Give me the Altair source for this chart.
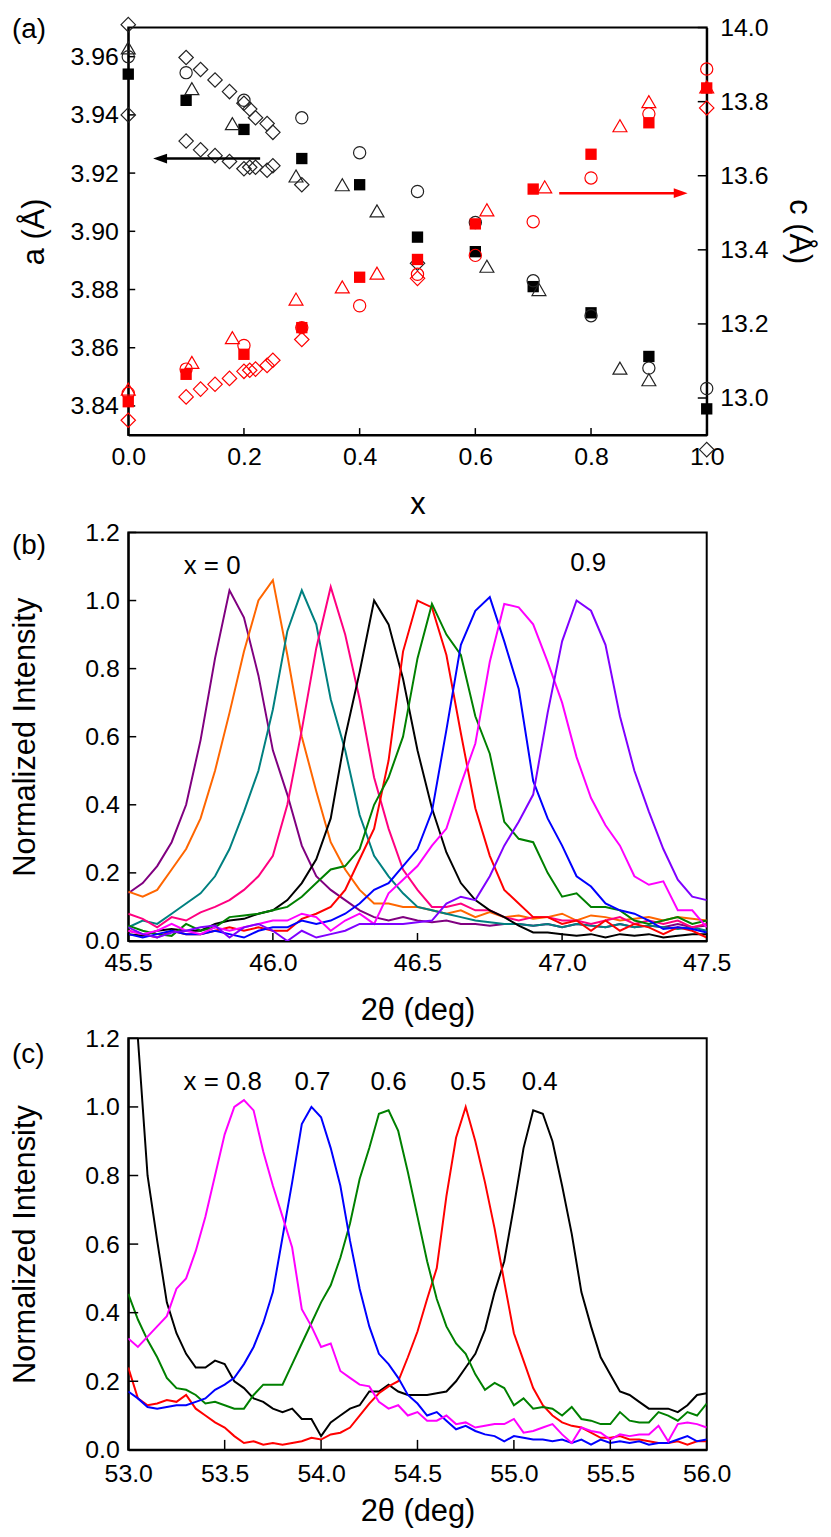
import altair as alt
import pandas as pd

FONT = "Liberation Sans"
W = 582
HA, HB, HC = 410, 411, 414

# ---------------- panel (a) data ----------------
XA_TICKS = [0.0, 0.2, 0.4, 0.6, 0.8, 1.0]
A_TICKS = [3.84, 3.86, 3.88, 3.90, 3.92, 3.94, 3.96]
C_TICKS = [13.0, 13.2, 13.4, 13.6, 13.8, 14.0]

SQ_X = [0.0, 0.1, 0.2, 0.3, 0.4, 0.5, 0.6, 0.7, 0.8, 0.9, 1.0]
SQ_A = [3.954, 3.945, 3.935, 3.925, 3.916, 3.898, 3.893, 3.881, 3.872, 3.857, 3.839]
SQ_C = [12.99, 13.064, 13.118, 13.19, 13.326, 13.374, 13.47, 13.564, 13.658, 13.743, 13.837]

CI_X = [0.0, 0.1, 0.2, 0.3, 0.4, 0.5, 0.6, 0.7, 0.8, 0.9, 1.0]
CI_A = [3.960, 3.9545, 3.945, 3.939, 3.927, 3.9137, 3.903, 3.883, 3.871, 3.853, 3.846]
CI_C = [13.013, 13.078, 13.142, 13.19, 13.249, 13.334, 13.385, 13.476, 13.594, 13.767, 13.888]

TRA_X = [0.0, 0.11, 0.18, 0.29, 0.37, 0.43, 0.62, 0.71, 0.85, 0.9]
TRA_A = [3.963, 3.949, 3.937, 3.919, 3.916, 3.907, 3.888, 3.880, 3.853, 3.849]
TRC_X = [0.0, 0.11, 0.18, 0.29, 0.37, 0.43, 0.62, 0.72, 0.85, 0.9, 1.0]
TRC_C = [13.024, 13.096, 13.163, 13.267, 13.3, 13.337, 13.508, 13.57, 13.735, 13.8, 13.84]

DIA_X = [0.0, 0.0, 0.1, 0.125, 0.15, 0.175, 0.2, 0.21, 0.22, 0.24, 0.25,
         0.1, 0.125, 0.15, 0.175, 0.2, 0.21, 0.22, 0.24, 0.25, 0.3, 0.5, 1.0]
DIA_A = [3.971, 3.940, 3.9597, 3.9556, 3.952, 3.948, 3.944, 3.942, 3.939, 3.937, 3.934,
         3.931, 3.928, 3.926, 3.924, 3.9215, 3.922, 3.922, 3.921, 3.9225, 3.916, 3.889, 3.825]
DIC_X = [0.0, 0.1, 0.125, 0.15, 0.175, 0.2, 0.21, 0.22, 0.24, 0.25, 0.3, 0.5, 1.0]
DIC_C = [12.94, 13.003, 13.024, 13.037, 13.053, 13.072, 13.075, 13.078, 13.088, 13.102, 13.158, 13.323, 13.783]

ARROW_A_X = [0.055, 0.228]
ARROW_A_Y = 3.925
ARROW_C_X = [0.745, 0.955]
ARROW_C_Y = 13.553

# ---------------- panel (b) data ----------------
T_B = [45.5, 45.55, 45.6, 45.65, 45.7, 45.75, 45.8, 45.85, 45.9, 45.95,
       46.0, 46.05, 46.1, 46.15, 46.2, 46.25, 46.3, 46.35, 46.4, 46.45,
       46.5, 46.55, 46.6, 46.65, 46.7, 46.75, 46.8, 46.85, 46.9, 46.95,
       47.0, 47.05, 47.1, 47.15, 47.2, 47.25, 47.3, 47.35, 47.4, 47.45, 47.5]
SER_B = ["0", "0.1", "0.2", "0.3", "0.4", "0.5", "0.6", "0.7", "0.8", "0.9"]
COL_B = ["#800080", "#FF6600", "#008080", "#FF0080", "#000000",
         "#FF0000", "#008000", "#0000FF", "#FF00FF", "#8000FF"]
I_B = {
    "0": [0.14, 0.17, 0.22, 0.29, 0.40, 0.59, 0.83, 1.03, 0.95, 0.78,
          0.56, 0.43, 0.28, 0.19, 0.15, 0.12, 0.09, 0.07, 0.06, 0.07,
          0.06, 0.055, 0.06, 0.05, 0.05, 0.045, 0.05, 0.05, 0.045, 0.05,
          0.04, 0.05, 0.045, 0.04, 0.05, 0.04, 0.045, 0.04, 0.05, 0.04, 0.045],
    "0.1": [0.145, 0.13, 0.15, 0.21, 0.27, 0.36, 0.50, 0.67, 0.85, 1.0,
            1.06, 0.84, 0.60, 0.44, 0.29, 0.21, 0.15, 0.11, 0.11, 0.10,
            0.10, 0.09, 0.08, 0.09, 0.07, 0.085, 0.07, 0.075, 0.065, 0.07,
            0.08, 0.06, 0.075, 0.07, 0.06, 0.065, 0.07, 0.06, 0.07, 0.065, 0.06],
    "0.2": [0.04, 0.06, 0.05, 0.08, 0.11, 0.14, 0.19, 0.27, 0.38, 0.50,
            0.68, 0.91, 1.03, 0.93, 0.71, 0.56, 0.37, 0.25, 0.19, 0.14,
            0.10, 0.09, 0.08, 0.07, 0.06, 0.055, 0.05, 0.05, 0.045, 0.05,
            0.04, 0.05, 0.045, 0.04, 0.05, 0.04, 0.045, 0.04, 0.035, 0.04, 0.03],
    "0.3": [0.08, 0.065, 0.04, 0.07, 0.06, 0.084, 0.10, 0.12, 0.15, 0.19,
            0.25, 0.40, 0.62, 0.86, 1.04, 0.90, 0.71, 0.48, 0.33, 0.21,
            0.15, 0.10, 0.10, 0.11, 0.09, 0.09, 0.07, 0.06, 0.07, 0.07,
            0.06, 0.06, 0.05, 0.06, 0.07, 0.05, 0.06, 0.05, 0.06, 0.04, 0.05],
    "0.4": [0.02, 0.015, 0.03, 0.035, 0.03, 0.03, 0.05, 0.06, 0.065, 0.08,
            0.09, 0.12, 0.17, 0.24, 0.36, 0.60, 0.79, 1.0, 0.93, 0.77,
            0.56, 0.39, 0.26, 0.17, 0.12, 0.09, 0.07, 0.045, 0.025, 0.025,
            0.02, 0.015, 0.02, 0.01, 0.02, 0.015, 0.02, 0.01, 0.015, 0.02, 0.02],
    "0.5": [0.03, 0.02, 0.01, 0.03, 0.02, 0.02, 0.03, 0.04, 0.03, 0.04,
            0.03, 0.03, 0.065, 0.08, 0.10, 0.15, 0.24, 0.33, 0.53, 0.85,
            1.0, 0.98, 0.84, 0.61, 0.39, 0.25, 0.15, 0.11, 0.07, 0.07,
            0.05, 0.06, 0.03, 0.06, 0.03, 0.05, 0.04, 0.02, 0.04, 0.03, 0.01],
    "0.6": [0.045, 0.03, 0.02, 0.015, 0.05, 0.03, 0.04, 0.07, 0.075, 0.08,
            0.09, 0.10, 0.13, 0.17, 0.21, 0.22, 0.27, 0.40, 0.48, 0.60,
            0.83, 0.99, 0.90, 0.84, 0.66, 0.55, 0.35, 0.30, 0.29, 0.20,
            0.13, 0.14, 0.10, 0.10, 0.09, 0.06, 0.05, 0.06, 0.07, 0.05, 0.06],
    "0.7": [0.02, 0.01, 0.02, 0.03, 0.02, 0.02, 0.03, 0.02, 0.01, 0.03,
            0.04, 0.04, 0.06, 0.05, 0.06, 0.08, 0.11, 0.15, 0.17, 0.22,
            0.27, 0.38, 0.62, 0.87, 0.97, 1.01, 0.88, 0.74, 0.47, 0.36,
            0.28, 0.19, 0.16, 0.11, 0.09, 0.08, 0.06, 0.035, 0.04, 0.035, 0.025],
    "0.8": [0.03, 0.02, 0.03, 0.05, 0.03, 0.02, 0.04, 0.03, 0.04, 0.05,
            0.06, 0.06, 0.08, 0.07, 0.03, 0.06, 0.08, 0.05, 0.14, 0.18,
            0.22, 0.28, 0.33, 0.46, 0.58, 0.82, 0.99, 0.98, 0.93, 0.82,
            0.70, 0.54, 0.42, 0.34, 0.28, 0.19, 0.165, 0.175, 0.09, 0.09, 0.04],
    "0.9": [0.04, 0.02, 0.01, 0.025, 0.03, 0.04, 0.045, 0.01, 0.04, 0.05,
            0.03, 0.0, 0.03, 0.01, 0.02, 0.03, 0.05, 0.05, 0.05, 0.05,
            0.055, 0.06, 0.11, 0.13, 0.12, 0.19, 0.28, 0.35, 0.43, 0.67,
            0.88, 1.0, 0.97, 0.87, 0.66, 0.50, 0.38, 0.27, 0.18, 0.13, 0.12],
}
LBL_B_TEXT = ["x = 0", "0.9"]
LBL_B_T = [45.79, 47.09]
LBL_B_I = [1.10, 1.11]

# ---------------- panel (c) data ----------------
T_C = [53.0, 53.05, 53.1, 53.15, 53.2, 53.25, 53.3, 53.35, 53.4, 53.45,
       53.5, 53.55, 53.6, 53.65, 53.7, 53.75, 53.8, 53.85, 53.9, 53.95,
       54.0, 54.05, 54.1, 54.15, 54.2, 54.25, 54.3, 54.35, 54.4, 54.45,
       54.5, 54.55, 54.6, 54.65, 54.7, 54.75, 54.8, 54.85, 54.9, 54.95,
       55.0, 55.05, 55.1, 55.15, 55.2, 55.25, 55.3, 55.35, 55.4, 55.45,
       55.5, 55.55, 55.6, 55.65, 55.7, 55.75, 55.8, 55.85, 55.9, 55.95, 56.0]
SER_C = ["0.4", "0.5", "0.6", "0.7", "0.8"]
COL_C = ["#000000", "#FF0000", "#008000", "#0000FF", "#FF00FF"]
I_C = {
    "0.4": [1.6, 1.2, 0.80, 0.61, 0.43, 0.34, 0.28, 0.24, 0.24, 0.26,
            0.25, 0.20, 0.18, 0.15, 0.14, 0.12, 0.11, 0.12, 0.09, 0.09,
            0.04, 0.08, 0.10, 0.12, 0.13, 0.17, 0.17, 0.19, 0.17, 0.16,
            0.16, 0.16, 0.165, 0.17, 0.20, 0.24, 0.28, 0.35, 0.46, 0.55,
            0.71, 0.88, 0.99, 0.98, 0.90, 0.77, 0.63, 0.46, 0.36, 0.27,
            0.22, 0.17, 0.16, 0.14, 0.12, 0.12, 0.12, 0.11, 0.13, 0.16, 0.165],
    "0.5": [0.24, 0.15, 0.13, 0.135, 0.145, 0.14, 0.16, 0.12, 0.10, 0.08,
            0.065, 0.04, 0.02, 0.025, 0.015, 0.02, 0.015, 0.02, 0.025, 0.035,
            0.03, 0.045, 0.05, 0.065, 0.10, 0.135, 0.165, 0.185, 0.20, 0.27,
            0.345, 0.44, 0.53, 0.74, 0.91, 1.0, 0.90, 0.78, 0.645, 0.49,
            0.34, 0.26, 0.18, 0.13, 0.10, 0.08, 0.07, 0.065, 0.05, 0.035,
            0.035, 0.04, 0.03, 0.03, 0.025, 0.02, 0.02, 0.025, 0.015, 0.025, 0.025],
    "0.6": [0.455, 0.38, 0.32, 0.27, 0.21, 0.18, 0.175, 0.16, 0.135, 0.14,
            0.13, 0.12, 0.12, 0.16, 0.19, 0.19, 0.19, 0.25, 0.31, 0.37,
            0.43, 0.48, 0.56, 0.66, 0.79, 0.88, 0.98, 0.99, 0.93, 0.81,
            0.68, 0.55, 0.44, 0.36, 0.31, 0.28, 0.22, 0.175, 0.195, 0.18,
            0.13, 0.15, 0.12, 0.125, 0.12, 0.10, 0.125, 0.09, 0.085, 0.075,
            0.075, 0.11, 0.085, 0.08, 0.08, 0.11, 0.10, 0.085, 0.11, 0.10, 0.135],
    "0.7": [0.17, 0.15, 0.125, 0.12, 0.125, 0.13, 0.13, 0.14, 0.15, 0.175,
            0.19, 0.21, 0.25, 0.30, 0.37, 0.46, 0.62, 0.78, 0.95, 1.0,
            0.97, 0.88, 0.77, 0.61, 0.47, 0.36, 0.28, 0.25, 0.21, 0.16,
            0.135, 0.10, 0.11, 0.085, 0.06, 0.07, 0.055, 0.045, 0.04, 0.025,
            0.04, 0.035, 0.03, 0.03, 0.025, 0.03, 0.02, 0.03, 0.015, 0.03,
            0.02, 0.025, 0.02, 0.025, 0.015, 0.02, 0.02, 0.03, 0.04, 0.025, 0.03],
    "0.8": [0.325, 0.30, 0.33, 0.36, 0.39, 0.47, 0.50, 0.58, 0.68, 0.80,
            0.92, 1.0, 1.02, 0.99, 0.87, 0.77, 0.68, 0.59, 0.41, 0.36,
            0.30, 0.31, 0.23, 0.21, 0.19, 0.185, 0.14, 0.12, 0.13, 0.10,
            0.11, 0.085, 0.085, 0.10, 0.075, 0.08, 0.065, 0.07, 0.075, 0.075,
            0.09, 0.05, 0.055, 0.065, 0.075, 0.045, 0.02, 0.065, 0.055, 0.05,
            0.03, 0.045, 0.04, 0.045, 0.045, 0.07, 0.025, 0.075, 0.08, 0.075, 0.065],
}
LBL_C_TEXT = ["x = 0.8", "0.7", "0.6", "0.5", "0.4"]
LBL_C_T = [53.49, 53.955, 54.35, 54.763, 55.134]
LBL_C_I = [1.074, 1.074, 1.074, 1.074, 1.074]

Y_TICKS_BC = [0.0, 0.2, 0.4, 0.6, 0.8, 1.0, 1.2]
X_TICKS_B = [45.5, 46.0, 46.5, 47.0, 47.5]
X_TICKS_C = [53.0, 53.5, 54.0, 54.5, 55.0, 55.5, 56.0]

for k in SER_B:
    assert len(I_B[k]) == len(T_B), k
for k in SER_C:
    assert len(I_C[k]) == len(T_C), k


def panel_label(text, y):
    return alt.Chart(pd.DataFrame({"lab": [text]})).mark_text(
        align="left", baseline="middle", font=FONT, fontSize=28, color="black"
    ).encode(text="lab:N", x=alt.value(-117), y=alt.value(y))


# ---------------- panel (a) ----------------
sc_xa = alt.Scale(domain=[0, 1], nice=False, zero=False)
sc_a = alt.Scale(domain=[3.83, 3.97], nice=False, zero=False)
sc_c = alt.Scale(domain=[12.9, 14.0], nice=False, zero=False)

XA = alt.X("x:Q", scale=sc_xa,
           axis=alt.Axis(values=XA_TICKS, format=".1f", title="x", labelPadding=10,
                         titleY=70, titleBaseline="middle"))
AX_A = alt.Axis(values=A_TICKS, format=".2f", title="a (Å)", labelPadding=10,
                titleX=-94, titleBaseline="middle")
AX_C = alt.Axis(orient="right", values=C_TICKS, format=".1f", title="c (Å)",
                labelPadding=13, titleX=92, titleBaseline="middle")


def pts(xs, ys, scale, axis, shape, color, filled, size):
    df = pd.DataFrame({"x": xs, "v": ys})
    kw = dict(shape=shape, color=color, size=size, opacity=1, filled=filled)
    if not filled:
        kw["strokeWidth"] = 1.2
    return alt.Chart(df).mark_point(**kw).encode(
        x=XA, y=alt.Y("v:Q", scale=scale, axis=axis))


tick_l = alt.Chart(pd.DataFrame({"v": A_TICKS})).mark_rule(color="black", strokeWidth=1.5).encode(
    y=alt.Y("v:Q", scale=sc_a, axis=None), x=alt.value(0), x2=alt.value(7))
tick_r = alt.Chart(pd.DataFrame({"v": C_TICKS})).mark_rule(color="black", strokeWidth=1.5).encode(
    y=alt.Y("v:Q", scale=sc_c, axis=None), x=alt.value(W - 9), x2=alt.value(W))
tick_b = alt.Chart(pd.DataFrame({"x": XA_TICKS})).mark_rule(color="black", strokeWidth=1.5).encode(
    x=XA, y=alt.value(HA - 7), y2=alt.value(HA))

arrow_a_line = alt.Chart(pd.DataFrame({"x": [ARROW_A_X[0]], "x2": [ARROW_A_X[1]], "v": [ARROW_A_Y]})).mark_rule(
    color="black", strokeWidth=2.5).encode(
    x=XA, x2="x2:Q", y=alt.Y("v:Q", scale=sc_a, axis=None))
arrow_a_head = alt.Chart(pd.DataFrame({"x": [ARROW_A_X[0]], "v": [ARROW_A_Y]})).mark_point(
    shape="M-1,0L1,-0.7L1,0.7Z", filled=True, color="black", size=196, opacity=1).encode(
    x=XA, y=alt.Y("v:Q", scale=sc_a, axis=None))
arrow_c_line = alt.Chart(pd.DataFrame({"x": [ARROW_C_X[0]], "x2": [ARROW_C_X[1]], "v": [ARROW_C_Y]})).mark_rule(
    color="#FF0000", strokeWidth=2.5).encode(
    x=XA, x2="x2:Q", y=alt.Y("v:Q", scale=sc_c, axis=None))
arrow_c_head = alt.Chart(pd.DataFrame({"x": [ARROW_C_X[1]], "v": [ARROW_C_Y]})).mark_point(
    shape="M1,0L-1,-0.7L-1,0.7Z", filled=True, color="#FF0000", size=196, opacity=1).encode(
    x=XA, y=alt.Y("v:Q", scale=sc_c, axis=None))

RED = "#FF0000"
pa = alt.layer(
    tick_l, tick_r, tick_b,
    pts(SQ_X, SQ_A, sc_a, AX_A, "square", "black", True, 130),
    pts(CI_X, CI_A, sc_a, None, "circle", "#222222", False, 151),
    pts(TRA_X, TRA_A, sc_a, None, "triangle-up", "#222222", False, 196),
    pts(DIA_X, DIA_A, sc_a, None, "diamond", "#222222", False, 210),
    arrow_a_line, arrow_a_head,
    pts(SQ_X, SQ_C, sc_c, AX_C, "square", RED, True, 130),
    pts(CI_X, CI_C, sc_c, None, "circle", RED, False, 151),
    pts(TRC_X, TRC_C, sc_c, None, "triangle-up", RED, False, 196),
    pts(DIC_X, DIC_C, sc_c, None, "diamond", RED, False, 210),
    arrow_c_line, arrow_c_head,
    panel_label("(a)", 3),
).resolve_scale(y="independent").properties(width=W, height=HA)


# ---------------- panels (b) and (c) ----------------
def spectra_panel(T, series, colors, I, xdom, xticks, lbl_text, lbl_t, lbl_i, H, tick_len,
                  lab_pad, title_y, label, label_y):
    rows = []
    for k, s in enumerate(series):
        for t, v in zip(T, I[s]):
            rows.append({"t": t, "I": v, "s": s, "o": k})
    df = pd.DataFrame(rows)
    sx = alt.Scale(domain=xdom, nice=False, zero=False)
    sy = alt.Scale(domain=[0, 1.2], nice=False, zero=False)
    X = alt.X("t:Q", scale=sx,
              axis=alt.Axis(values=xticks, format=".1f", title="2θ (deg)", labelPadding=lab_pad,
                            titleY=title_y, titleBaseline="middle"))
    Y = alt.Y("I:Q", scale=sy,
              axis=alt.Axis(values=Y_TICKS_BC, format=".1f", title="Normalized Intensity",
                            labelPadding=9, titleX=-103, titleBaseline="middle"))
    lines = alt.Chart(df).mark_line(strokeWidth=2, clip=True).encode(
        x=X, y=Y,
        color=alt.Color("s:N", scale=alt.Scale(domain=series, range=colors), legend=None),
        detail="o:N")
    txt = alt.Chart(pd.DataFrame({"t": lbl_t, "I": lbl_i, "txt": lbl_text})).mark_text(
        font=FONT, fontSize=26, color="black", baseline="middle").encode(
        x=X, y=Y, text="txt:N")
    ty = alt.Chart(pd.DataFrame({"I": Y_TICKS_BC})).mark_rule(color="black", strokeWidth=1.5).encode(
        y=Y, x=alt.value(0), x2=alt.value(tick_len))
    tx = alt.Chart(pd.DataFrame({"t": xticks})).mark_rule(color="black", strokeWidth=1.5).encode(
        x=X, y=alt.value(H - tick_len), y2=alt.value(H))
    return alt.layer(lines, ty, tx, txt, panel_label(label, label_y)).properties(width=W, height=H)


pb = spectra_panel(T_B, SER_B, COL_B, I_B, [45.5, 47.5], X_TICKS_B, LBL_B_TEXT, LBL_B_T, LBL_B_I,
                   HB, 8, 10, 70, "(b)", 14)
pc = spectra_panel(T_C, SER_C, COL_C, I_C, [53.0, 56.0], X_TICKS_C, LBL_C_TEXT, LBL_C_T, LBL_C_I,
                   HC, 10, 12, 62, "(c)", 17)

chart = alt.vconcat(pa, pb, pc, spacing=98, bounds="flush").properties(
    padding={"left": 0, "top": 1, "right": 8, "bottom": 0}
).configure_axis(
    labelFont=FONT, labelFontSize=25, labelColor="black",
    titleFont=FONT, titleFontSize=31, titleFontWeight="normal", titleColor="black",
    domainColor="black", domainWidth=2, ticks=False, tickSize=0, grid=False,
    labelFlush=False, labelOverlap=False,
).configure_view(stroke="black", strokeWidth=2)

chart.save("out.html", embed_options={"renderer": "svg", "actions": False})
